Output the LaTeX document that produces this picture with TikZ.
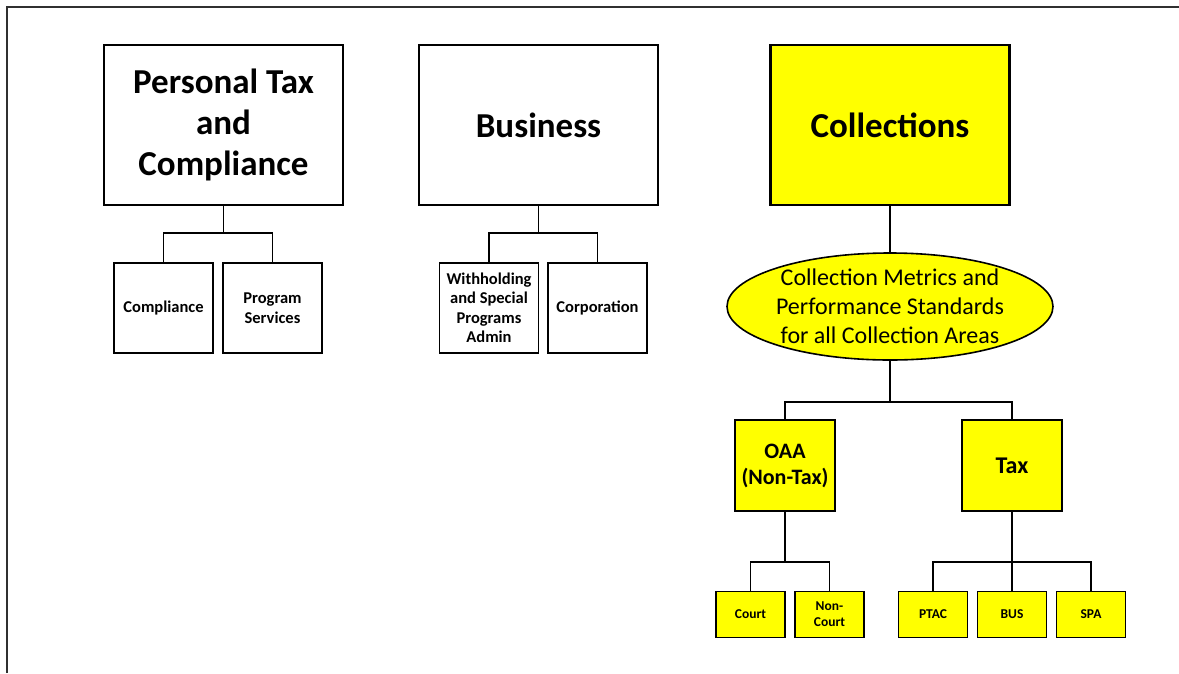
\documentclass[tikz,border=0pt]{standalone}
\usepackage{fontspec}
\setmainfont{Carlito}
\usetikzlibrary{shapes.geometric}
\definecolor{yel}{HTML}{FFFF00}
\definecolor{frame}{HTML}{303030}
\begin{document}
\begin{tikzpicture}[x=1pt,y=-1pt,
  big/.style={draw, line width=2.6pt, minimum width=239pt, minimum height=160pt, inner sep=0pt, align=center, font=\bfseries\fontsize{35}{41}\selectfont},
  small/.style={draw, line width=1.6pt, minimum width=99pt, minimum height=90pt, inner sep=0pt, align=center, font=\bfseries\fontsize{16.5}{19.5}\selectfont},
  mid/.style={draw, line width=2pt, fill=yel, minimum width=100pt, minimum height=91pt, inner sep=0pt, align=center, font=\bfseries\fontsize{22}{26}\selectfont},
  tiny/.style={draw, line width=1.3pt, fill=yel, minimum width=69pt, minimum height=46pt, inner sep=0pt, align=center, font=\bfseries\fontsize{13.5}{16}\selectfont},
  conn/.style={draw, line width=1.4pt}
]
\useasboundingbox (0,0) rectangle (1179,673);
\draw[line width=2pt, frame] (7,673) -- (7,7) -- (1179,7);

% top boxes
\node[big] (ptc) at (223.5,125) {Personal Tax\\and\\Compliance};
\node[big] (bus) at (538.5,125) {Business};
\node[big, fill=yel] (col) at (890,125) {Collections};

% PTC children
\node[small] (comp) at (163.5,308) {Compliance};
\node[small] (prog) at (272.5,308) {Program\\Services};
\draw[conn] (ptc.south) -- (ptc.south |- 0,233) coordinate (pj);
\draw[conn] (comp.north) |- (pj) -| (prog.north);

% Business children
\node[small] (wsp) at (489,308) {Withholding\\and Special\\Programs\\Admin};
\node[small] (corp) at (597.5,308) {Corporation};
\draw[conn] (bus.south) -- (bus.south |- 0,233) coordinate (bj);
\draw[conn] (wsp.north) |- (bj) -| (corp.north);

% Collections ellipse
\node[ellipse, draw, line width=1.6pt, fill=yel, minimum width=326pt, minimum height=107pt, inner sep=0pt, align=center, font=\fontsize{24}{29}\selectfont] (met) at (890,306.5) {Collection Metrics and\\Performance Standards\\for all Collection Areas};
\draw[conn] (col.south) -- (met.north);

% OAA / Tax
\node[mid] (oaa) at (785,465.5) {OAA\\(Non-Tax)};
\node[mid, font=\bfseries\fontsize{24}{26}\selectfont] (tax) at (1012,465.5) {Tax};
\draw[conn] (met.south) -- (met.south |- 0,402) coordinate (mj);
\draw[conn] (oaa.north) |- (mj) -| (tax.north);

% bottom level
\node[tiny] (court) at (750.5,614.5) {Court};
\node[tiny] (ncourt) at (829.5,614.5) {Non-\\Court};
\node[tiny] (ptac) at (933,614.5) {PTAC};
\node[tiny] (busn) at (1012,614.5) {BUS};
\node[tiny] (spa) at (1091,614.5) {SPA};
\draw[conn] (oaa.south) -- (oaa.south |- 0,562) coordinate (oj);
\draw[conn] (court.north) |- (oj) -| (ncourt.north);
\draw[conn] (tax.south) -- (busn.north);
\draw[conn] (ptac.north) |- (tax.south |- 0,562) -| (spa.north);
\end{tikzpicture}
\end{document}
